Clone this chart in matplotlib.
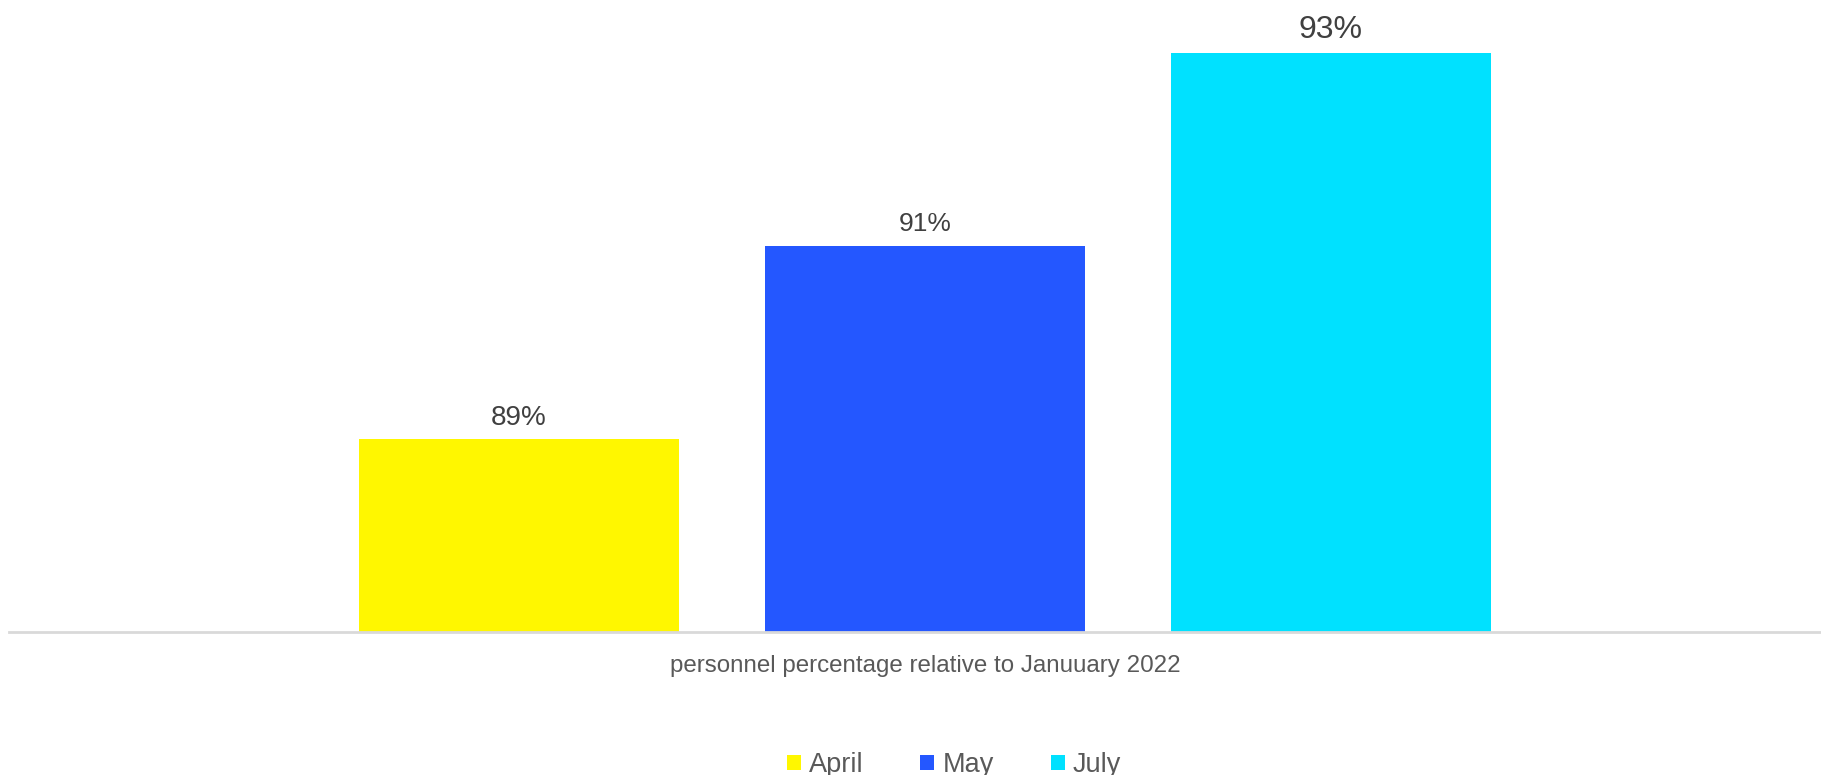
import matplotlib
matplotlib.use("Agg")
import matplotlib.pyplot as plt

# data
series = ["April", "May", "July"]
values = [89, 91, 93]
colors = ["#FFF700", "#2457FF", "#00E1FF"]
label_sizes = [20, 19, 23]
category = "personnel percentage relative to Januuary 2022"

plt.rcParams["font.family"] = ["Liberation Sans", "DejaVu Sans"]

W, H = 1821, 775
fig = plt.figure(figsize=(W / 100, H / 100), dpi=100)

# axes placed in pixel coords: x from 9 to 1821, baseline at y=632 (from top)
ax = fig.add_axes([9 / W, (H - 632) / H, (W - 9) / W, 632 / H])

step = 406.0  # px between bar centers
x = list(range(len(series)))
width = 320 / step
ax.set_xlim((9 - 519) / step, (1821 - 519) / step)
ymin = 87
px_per_unit = 96.5
ax.set_ylim(ymin, ymin + 632 / px_per_unit)

bars = ax.bar(x, [v - ymin for v in values], bottom=ymin, width=width,
              color=colors, label=series, zorder=2)

offsets = [15, 15.5, 16.5]
for xi, v, s, o in zip(x, values, label_sizes, offsets):
    ax.annotate(f"{v}%", (xi, v), xytext=(0, o), textcoords="offset points",
                ha="center", va="center", fontsize=s, color="#404040")

for side in ["top", "right", "left"]:
    ax.spines[side].set_visible(False)
ax.spines["bottom"].set_color("#D9D9D9")
ax.spines["bottom"].set_linewidth(2)
ax.set_yticks([])
ax.set_xticks([])

fig.text(925 / W, 1 - 666 / H, category, ha="center", va="center",
         fontsize=17.4, color="#595959")

leg = fig.legend(handles=bars, labels=series, loc="center", ncol=3,
                 bbox_to_anchor=(954 / W, 1 - 765 / H), frameon=False,
                 fontsize=19.5, handlelength=0.52, handleheight=0.52,
                 handletextpad=0.3, columnspacing=2.1)
for t in leg.get_texts():
    t.set_color("#595959")

fig.savefig("out.png", dpi=100)
